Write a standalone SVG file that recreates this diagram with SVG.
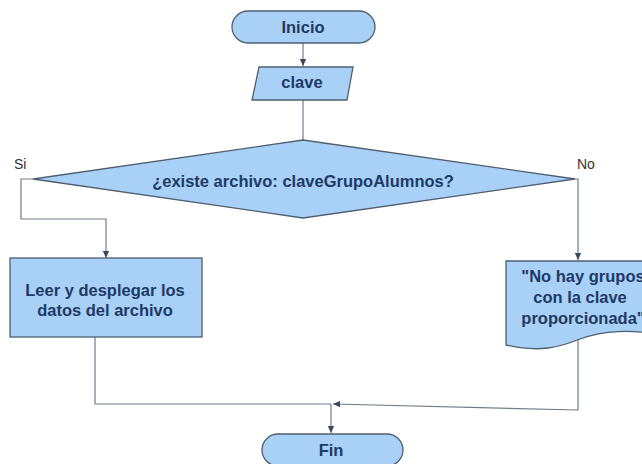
<svg xmlns="http://www.w3.org/2000/svg" width="642" height="464" viewBox="0 0 642 464">
<style>
.shape{fill:#a9d1f7;stroke:#4f5f70;stroke-width:1.3}
.t{font-family:"Liberation Sans",Arial,sans-serif;font-weight:bold;font-size:16.5px;fill:#1d3a66;text-anchor:middle}
.lbl{font-family:"Liberation Sans",Arial,sans-serif;font-size:14px;fill:#333}
.c{fill:none;stroke:#6f7d8b;stroke-width:1.2}
</style>
<defs>
<marker id="ah" markerWidth="8" markerHeight="8" refX="7" refY="4" orient="auto" markerUnits="userSpaceOnUse">
<path d="M0,0.8 L7,4 L0,7.2 Z" fill="#3b4a5a"/>
</marker>
</defs>
<rect width="642" height="464" fill="#ffffff"/>
<g id="connectors">
<path class="c" d="M303,43 V66" marker-end="url(#ah)"/>
<path class="c" d="M303,100 V140"/>
<path class="c" d="M33,179 H21 V219 H106 V258" marker-end="url(#ah)"/>
<path class="c" d="M575,179 H578 V260" marker-end="url(#ah)"/>
<path class="c" d="M95,337 V404 H331"/>
<path class="c" d="M578,338 V410 L333,404" marker-end="url(#ah)"/>
<path class="c" d="M331,404 V433" marker-end="url(#ah)"/>
</g>
<g id="inicio">
<rect class="shape" x="232" y="11" width="143" height="32" rx="16" ry="16"/>
<text class="t" x="303" y="33">Inicio</text>
</g>
<g id="clave">
<polygon class="shape" points="259,67 353,67 347,100 252,100"/>
<text class="t" x="302" y="88">clave</text>
</g>
<g id="decision">
<polygon class="shape" points="303,140 575,179 303,218 33,179"/>
<text class="t" x="303" y="187">¿existe archivo: claveGrupoAlumnos?</text>
<text class="lbl" x="14" y="169">Si</text>
<text class="lbl" x="577" y="169">No</text>
</g>
<g id="leer">
<rect class="shape" x="10" y="258" width="192" height="79"/>
<text class="t" x="105" y="296">Leer y desplegar los</text>
<text class="t" x="105" y="316">datos del archivo</text>
</g>
<g id="mensaje">
<path class="shape" d="M506,261 H660 V334 C630,330 605,330 580,339 C560,347 540,353 506,345 Z"/>
<text class="t" x="583" y="282">"No hay grupos</text>
<text class="t" x="580" y="303">con la clave</text>
<text class="t" x="583" y="324">proporcionada"</text>
</g>
<g id="fin">
<rect class="shape" x="262" y="434" width="141" height="32" rx="16" ry="16"/>
<text class="t" x="331" y="456">Fin</text>
</g>
</svg>
